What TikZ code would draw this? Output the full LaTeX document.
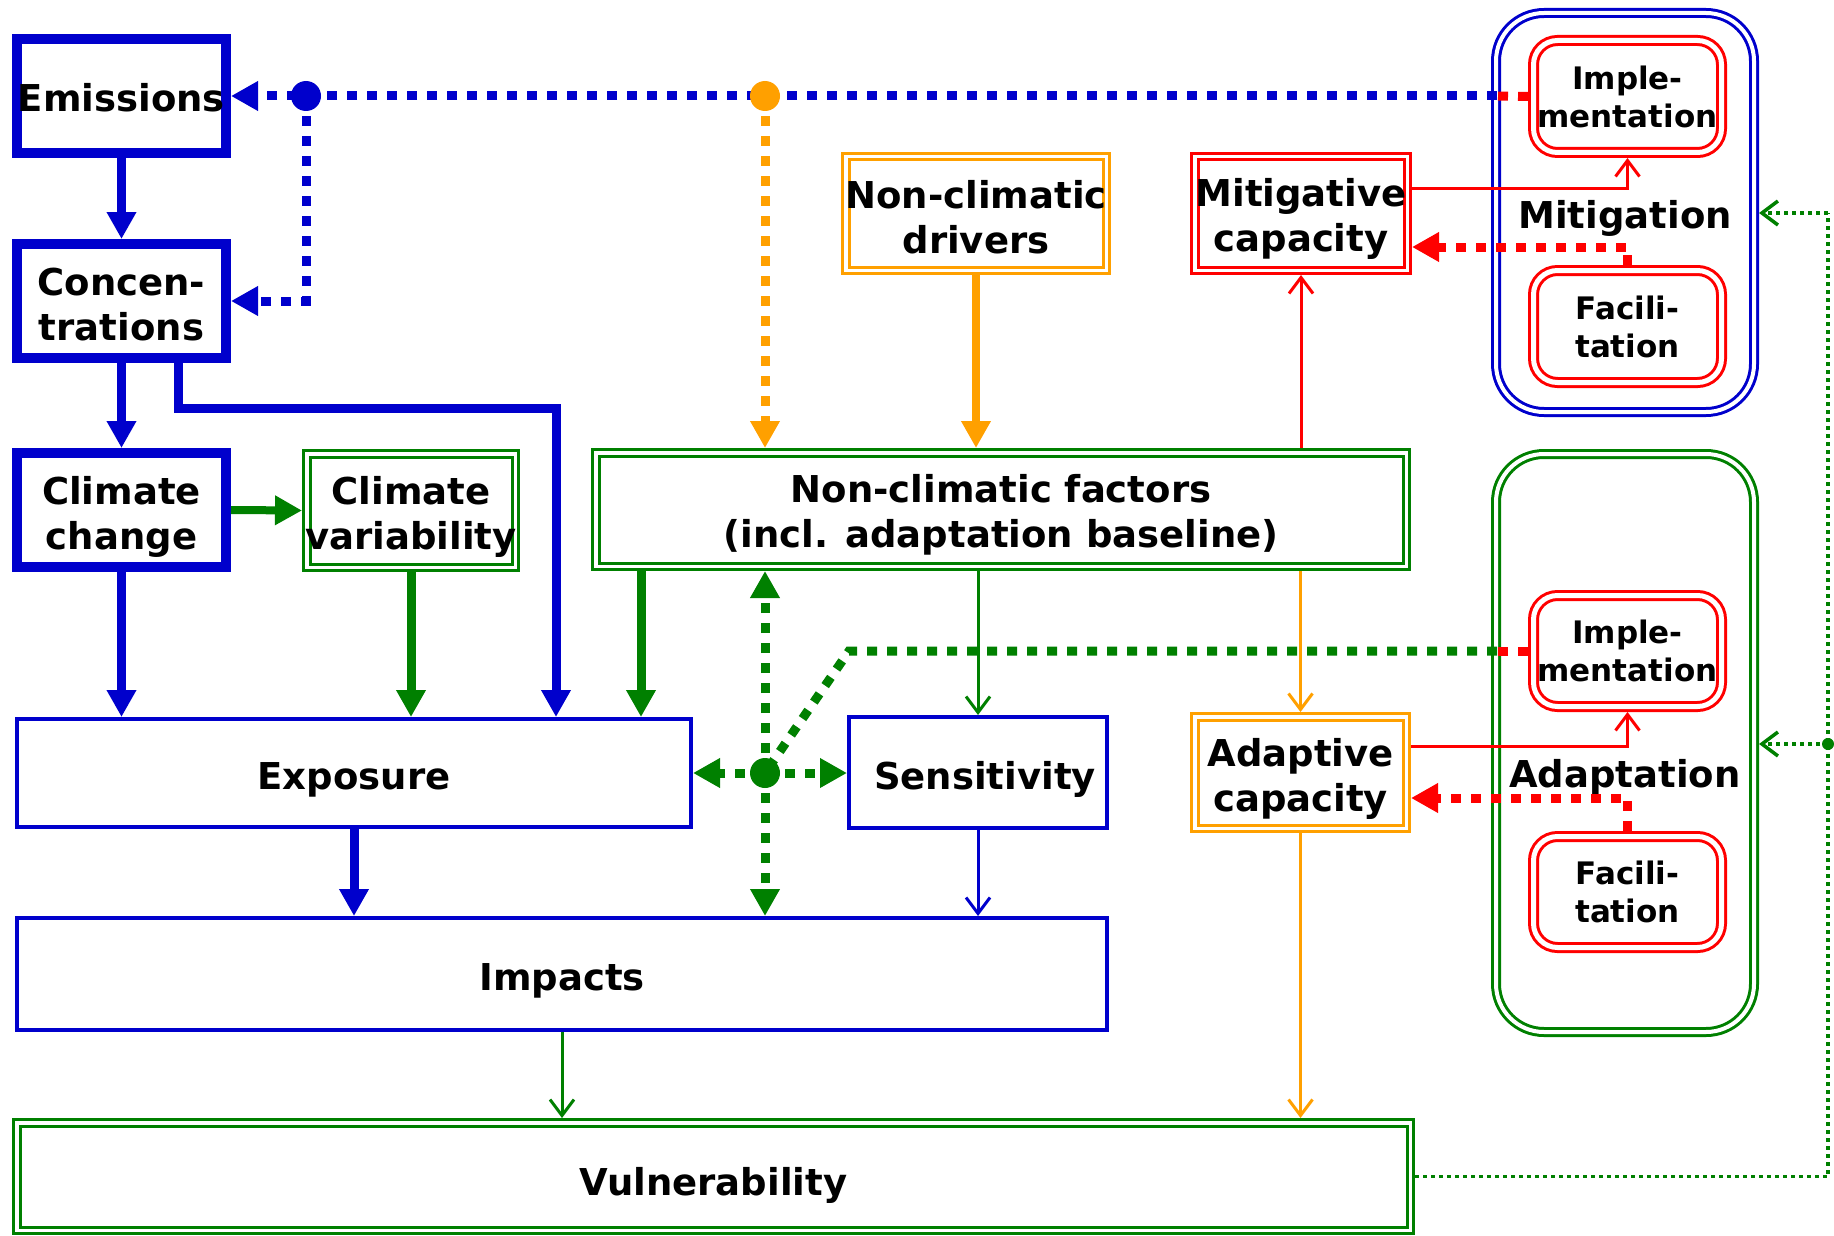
\documentclass[tikz,border=0pt]{standalone}
\usepackage{fontspec}
\setmainfont{DejaVu Sans}
\usetikzlibrary{arrows.meta}
\definecolor{cblue}{RGB}{0,0,204}
\definecolor{cgreen}{RGB}{0,128,0}
\definecolor{corange}{RGB}{255,160,0}
\definecolor{cred}{RGB}{255,0,0}
\newcommand{\zb}[1]{\makebox[0pt]{#1}}
\begin{document}
\begin{tikzpicture}[x=1pt,y=-1pt,
  every node/.style={inner sep=0pt, align=center, font=\bfseries\fontsize{37}{45}\selectfont},
  tx/.style 2 args={label={[yshift=-#1]center:#2}},
  thickbox/.style={draw=cblue, line width=10pt, outer sep=5pt, minimum width=209pt, minimum height=114pt},
  thinbox/.style={draw=cblue, line width=4pt, outer sep=2pt},
  dblbox/.style={draw=#1, double=white, line width=3pt, double distance=3.5pt, outer sep=4.75pt},
  rdbl/.style={draw=cred, double=white, line width=3pt, double distance=5pt, rounded corners=24pt, outer sep=5.5pt, minimum width=188pt, minimum height=112pt, font=\bfseries\fontsize{31}{38}\selectfont},
  bigbox/.style={draw=#1, double=white, line width=3pt, double distance=4pt, rounded corners=48pt, outer sep=5pt, minimum width=258pt},
  tri/.style={-{Triangle[length=27pt,width=28pt]}},
  thickarr/.style={line width=9pt, tri},
  thinarr/.style={line width=3pt, -{Straight Barb[length=16pt,width=24pt]}},
  dotthick/.style={line width=9pt, dash pattern=on 10pt off 10pt},
  dotthin/.style={line width=3.5pt, dash pattern=on 4pt off 4pt}
]
\fill[white] (0,0) rectangle (1834,1236);
\useasboundingbox (0,0) rectangle (1834,1236);

% right-hand groups
\node[bigbox=cblue, minimum height=399pt] (mit) at (1625,212.5) {};
\node[bigbox=cgreen, minimum height=578pt] (ada) at (1625,743) {};
\node (mitl) at (1625,218) {Mitigation};
\node (adal) at (1625,777) {Adaptation};
\node[rdbl] (imm) at (1627.5,96.5) {\zb{Imple-}\\\zb{mentation}};
\node[rdbl] (fam) at (1627.5,326.5) {\zb{Facili-}\\\zb{tation}};
\node[rdbl, minimum height=111pt] (ima) at (1627.5,651) {\zb{Imple-}\\\zb{mentation}};
\node[rdbl, minimum height=111pt] (faa) at (1627.5,892) {\zb{Facili-}\\\zb{tation}};

% main boxes
\node[thickbox, tx={1.5pt}{Emissions}] (em) at (121.5,96) {};
\node[thickbox, tx={4pt}{Concen-\\trations}] (co) at (121.5,301) {};
\node[thickbox, tx={6.5pt}{Climate\\change}] (cc) at (121.5,510) {};
\node[dblbox=cgreen, minimum width=208.5pt, minimum height=113.5pt, tx={6.5pt}{Climate\\variability}] (cv) at (411,510.5) {};
\node[dblbox=corange, minimum width=260.5pt, minimum height=113.5pt, tx={3.5pt}{Non-climatic\\drivers}] (nd) at (976,213.5) {};
\node[dblbox=cred, minimum width=212.5pt, minimum height=113.5pt, tx={5pt}{Mitigative\\capacity}] (mc) at (1301,213.5) {};
\node[dblbox=cgreen, minimum width=810.5pt, minimum height=113.5pt, tx={5.5pt}{Non-climatic factors\\(incl. adaptation baseline)}] (nf) at (1001,509.5) {};
\node[thinbox, minimum width=674pt, minimum height=108pt, tx={6.5pt}{Exposure}] (ex) at (354,773) {};
\node[thinbox, minimum width=258pt, minimum height=111pt, label={[yshift=-6.5pt,xshift=7pt]center:Sensitivity}] (se) at (978,772.5) {};
\node[dblbox=corange, minimum width=211.5pt, minimum height=111.5pt, tx={6pt}{Adaptive\\capacity}] (ac) at (1300.5,772.5) {};
\node[thinbox, minimum width=1090pt, minimum height=112pt, tx={7pt}{Impacts}] (im) at (562,974) {};
\node[dblbox=cgreen, minimum width=1393.5pt, minimum height=107.5pt, tx={9pt}{Vulnerability}] (vu) at (713.5,1176.5) {};

% coordinates
\coordinate (bd) at (306,96);
\coordinate (od) at (765,96);
\coordinate (gd) at (765,773);
\coordinate (sw) at (1497,96);
\coordinate (sw2) at (1497,651);
\coordinate (gk) at (849,651);
\coordinate (cbx) at (178,0);
\coordinate (cbend) at (556,408);
\coordinate (nfx) at (641,0);
\coordinate (mr1) at (1412,188);
\coordinate (mr2) at (1412,247);
\coordinate (ar1) at (1411,746);
\coordinate (ar2) at (1411,798);
\coordinate (lp1) at (1828,213);
\coordinate (lp2) at (1828,744);

% blue chain
\draw[cblue, thickarr] (em.south) -- (co.north);
\draw[cblue, thickarr] (co.south) -- (cc.north);
\draw[cblue, thickarr] (cc.south) -- (ex.north -| cc.south);
\draw[cblue, thickarr] (co.south -| cbx) |- (cbend) -- (cbend |- ex.north);
\draw[cgreen, line width=8pt, tri] (cc.east) -- (cv.west);
\draw[cgreen, thickarr] (cv.south) -- (ex.north -| cv.south);
\draw[cgreen, thickarr] (nf.south -| nfx) -- (ex.north -| nfx);
\draw[cblue, thickarr] (ex.south) -- (im.north -| ex.south);

% top dotted feedback
\draw[cred, dotthick] (imm.west) -- (sw);
\draw[cblue, dotthick, tri] (sw) -- (em);
\draw[cblue, dotthick, tri] (bd) |- (co.east);
\draw[corange, dotthick, tri] (od) -- (od |- nf.north);
\draw[corange, line width=8pt, tri] (nd.south) -- (nd.south |- nf.north);

% mitigation links
\draw[cred, thinarr] (nf.north -| mc.south) -- (mc.south);
\draw[cred, thinarr] (mr1) -| (imm.south);
\draw[cred, dotthick, tri] (fam.north) |- (mr2);

% adaptation links
\draw[cred, thinarr] (ar1) -| (ima.south);
\draw[cred, dotthick, tri] (faa.north) |- (ar2);
\draw[corange, thinarr] (nf.south -| ac.north) -- (ac.north);
\draw[corange, thinarr] (ac.south) -- (ac.south |- vu.north);

% thin links
\draw[cgreen, thinarr] (nf.south -| se.north) -- (se.north);
\draw[cblue, thinarr] (se.south) -- (se.south |- im.north);
\draw[cgreen, thinarr] (im.south) -- (im.south |- vu.north);

% green dotted hub
\draw[cred, dotthick] (ima.west) -- (sw2);
\draw[cgreen, dotthick] (sw2) -- (gk) -- (gd);
\draw[cgreen, dotthick, tri] (gd) -- (gd |- nf.south);
\draw[cgreen, dotthick, tri] (gd) -- (gd |- im.north);
\draw[cgreen, dotthick, tri] (gd) -- (ex.east |- gd);
\draw[cgreen, dotthick, tri] (gd) -- (se.west |- gd);

% vulnerability loop
\draw[cgreen, dotthin] (vu.east) -| (lp1);
\draw[cgreen, dotthin, -{Straight Barb[length=16pt,width=24pt]}] (lp1) -- (mit.east |- lp1);
\draw[cgreen, dotthin, -{Straight Barb[length=16pt,width=24pt]}] (lp2) -- (ada.east |- lp2);

% dots
\fill[cblue] (bd) circle[radius=15pt];
\fill[corange] (od) circle[radius=15pt];
\fill[cgreen] (gd) circle[radius=15pt];
\fill[cgreen] (lp2) circle[radius=6pt];
\end{tikzpicture}
\end{document}
